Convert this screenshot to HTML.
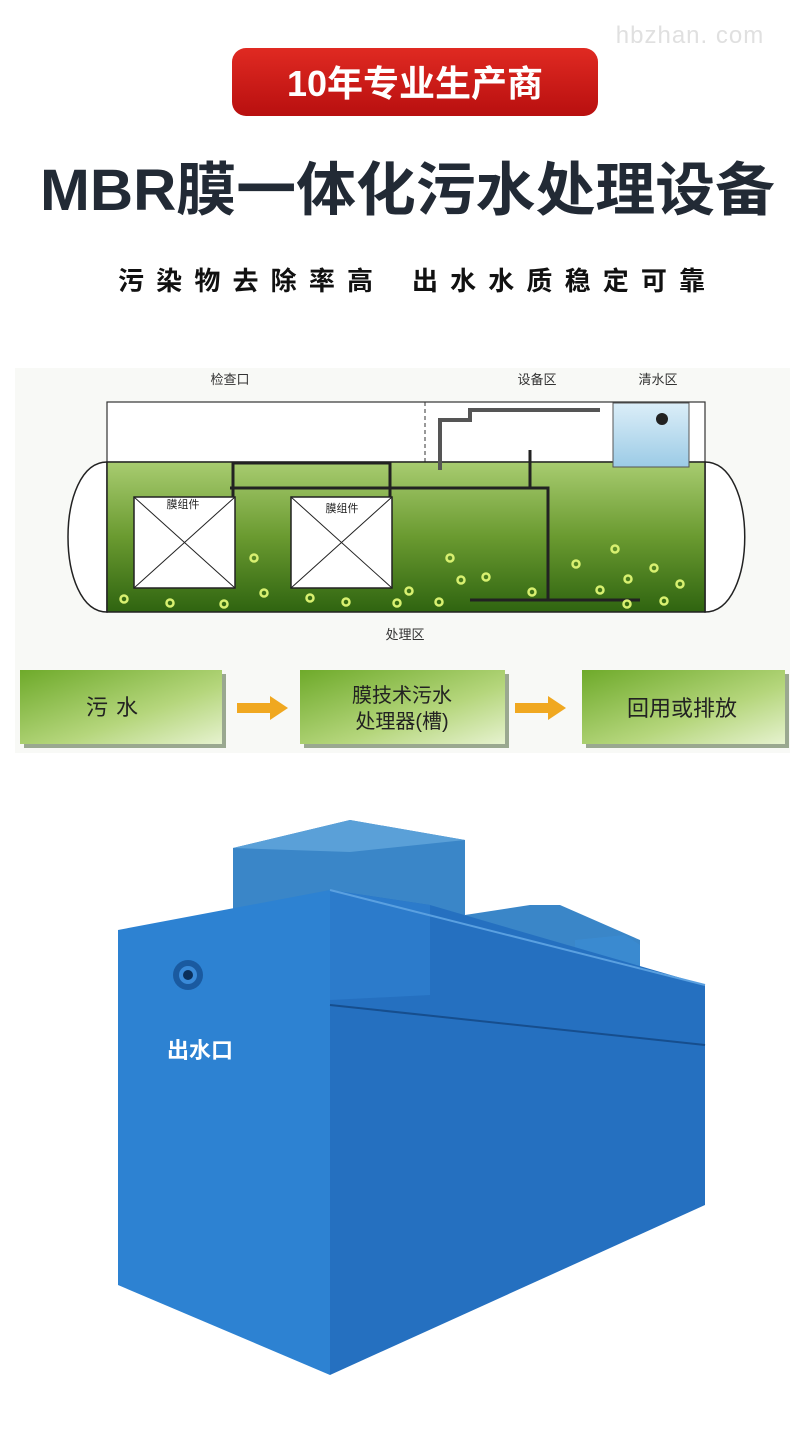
<!DOCTYPE html>
<html><head><meta charset="utf-8"><style>
body{margin:0;background:#fff;width:800px;height:1434px;overflow:hidden;font-family:"Liberation Sans","Noto Sans CJK SC",sans-serif}
svg{display:block}
</style></head><body>
<svg width="800" height="1434" viewBox="0 0 800 1434" xmlns="http://www.w3.org/2000/svg" font-family="Liberation Sans, Noto Sans CJK SC, sans-serif">
<defs>
<linearGradient id="red" x1="0" y1="0" x2="0" y2="1"><stop offset="0" stop-color="#e02a22"/><stop offset="1" stop-color="#b80f0f"/></linearGradient>
<linearGradient id="grn" x1="0" y1="0" x2="0" y2="1"><stop offset="0" stop-color="#a8cc70"/><stop offset="0.5" stop-color="#6a9a30"/><stop offset="1" stop-color="#2f6410"/></linearGradient>
<linearGradient id="box" x1="0" y1="0" x2="1" y2="1"><stop offset="0" stop-color="#6eaa2a"/><stop offset="0.6" stop-color="#b5d67c"/><stop offset="1" stop-color="#e6f2cf"/></linearGradient>
<linearGradient id="blu" x1="0" y1="0" x2="0" y2="1"><stop offset="0" stop-color="#dbeef8"/><stop offset="1" stop-color="#9ccbe6"/></linearGradient>
</defs>
<text x="690" y="43" font-size="24" fill="#e0e0e0" text-anchor="middle" letter-spacing="1">hbzhan. com</text>
<rect x="232" y="48" width="366" height="68" rx="14" fill="url(#red)"/>
<text x="415" y="96" font-size="36" font-weight="bold" fill="#fff" text-anchor="middle">10年专业生产商</text>
<text x="40" y="210" font-size="58" font-weight="bold" fill="#222a35" textLength="735" lengthAdjust="spacingAndGlyphs">MBR膜一体化污水处理设备</text>
<text x="118" y="290" font-size="26" font-weight="bold" fill="#111" textLength="255" lengthAdjust="spacing">污染物去除率高</text>
<text x="412" y="290" font-size="26" font-weight="bold" fill="#111" textLength="293" lengthAdjust="spacing">出水水质稳定可靠</text>
<rect x="15" y="368" width="775" height="385" fill="#f8f9f6"/>
<text x="230" y="384" font-size="13" fill="#333" text-anchor="middle">检查口</text>
<text x="537" y="384" font-size="13" fill="#333" text-anchor="middle">设备区</text>
<text x="658" y="384" font-size="13" fill="#333" text-anchor="middle">清水区</text>
<path d="M107 462 C55 462 55 612 107 612 Z" fill="#fff" stroke="#222" stroke-width="1.5"/>
<path d="M705 462 C758 462 758 612 705 612 Z" fill="#fff" stroke="#222" stroke-width="1.5"/>
<rect x="107" y="402" width="598" height="60" fill="#fff" stroke="#333" stroke-width="1.2"/>
<line x1="425" y1="402" x2="425" y2="462" stroke="#333" stroke-dasharray="4,3"/>
<rect x="107" y="462" width="598" height="150" fill="url(#grn)" stroke="#222" stroke-width="1.5"/>
<rect x="613" y="403" width="76" height="64" fill="url(#blu)" stroke="#555"/>
<circle cx="662" cy="419" r="6" fill="#222"/>
<g stroke="#222" stroke-width="3" fill="none">
<path d="M233 498 V463 H390 V498"/><path d="M230 488 H548 V600"/><path d="M530 488 V450"/>
<path d="M470 600 H640"/></g>
<path d="M440 470 V420 H470 V410 H600" stroke="#555" stroke-width="4" fill="none"/>
<rect x="134" y="497" width="101" height="91" fill="#fff" stroke="#222" stroke-width="1.5"/>
<path d="M134 497 L235 588 M235 497 L134 588" stroke="#222"/>
<rect x="291" y="497" width="101" height="91" fill="#fff" stroke="#222" stroke-width="1.5"/>
<path d="M291 497 L392 588 M392 497 L291 588" stroke="#222"/>
<text x="183" y="508" font-size="11" fill="#222" text-anchor="middle">膜组件</text>
<text x="342" y="512" font-size="11" fill="#222" text-anchor="middle">膜组件</text>
<g fill="none" stroke="#d8f070" stroke-width="2.5">
<circle cx="124" cy="599" r="3.5"/><circle cx="170" cy="603" r="3.5"/><circle cx="224" cy="604" r="3.5"/><circle cx="254" cy="558" r="3.5"/><circle cx="264" cy="593" r="3.5"/><circle cx="310" cy="598" r="3.5"/><circle cx="346" cy="602" r="3.5"/><circle cx="397" cy="603" r="3.5"/><circle cx="409" cy="591" r="3.5"/><circle cx="439" cy="602" r="3.5"/><circle cx="450" cy="558" r="3.5"/><circle cx="461" cy="580" r="3.5"/><circle cx="486" cy="577" r="3.5"/><circle cx="532" cy="592" r="3.5"/><circle cx="576" cy="564" r="3.5"/><circle cx="600" cy="590" r="3.5"/><circle cx="615" cy="549" r="3.5"/><circle cx="628" cy="579" r="3.5"/><circle cx="654" cy="568" r="3.5"/><circle cx="680" cy="584" r="3.5"/><circle cx="664" cy="601" r="3.5"/><circle cx="627" cy="604" r="3.5"/></g>
<text x="405" y="639" font-size="13" fill="#333" text-anchor="middle">处理区</text>
<g>
<rect x="24" y="674" width="202" height="74" fill="#9aa890"/>
<rect x="20" y="670" width="202" height="74" fill="url(#box)"/>
<rect x="304" y="674" width="205" height="74" fill="#9aa890"/>
<rect x="300" y="670" width="205" height="74" fill="url(#box)"/>
<rect x="586" y="674" width="203" height="74" fill="#9aa890"/>
<rect x="582" y="670" width="203" height="74" fill="url(#box)"/>
<text x="116" y="715" font-size="22" fill="#222" text-anchor="middle" letter-spacing="8">污水</text>
<text x="402" y="702" font-size="20" fill="#222" text-anchor="middle">膜技术污水</text>
<text x="402" y="728" font-size="20" fill="#222" text-anchor="middle">处理器(槽)</text>
<text x="682" y="716" font-size="22" fill="#222" text-anchor="middle">回用或排放</text>
<path d="M237 703 H270 V696 L288 708 L270 720 V713 H237Z" fill="#f0a820"/>
<path d="M515 703 H548 V696 L566 708 L548 720 V713 H515Z" fill="#f0a820"/>
</g>
<polygon points="233,848 350,820 465,840 465,915 233,915" fill="#3a86c8"/>
<polygon points="233,848 350,820 465,840 350,852" fill="#5aa0d8"/>
<polygon points="465,915 530,905 560,905 640,940 640,970 465,970" fill="#3a86c8"/>
<polygon points="575,940 625,935 640,945 640,975 575,975" fill="#3a8ad0"/>
<polygon points="118,930 330,890 330,1375 118,1285" fill="#2d82d2"/>
<polygon points="330,890 430,905 705,985 705,1205 330,1375" fill="#2570c0"/>
<polygon points="330,890 430,905 430,995 330,1000" fill="#2c7bcb"/>
<line x1="330" y1="1005" x2="705" y2="1045" stroke="#164e8e" stroke-width="2"/>
<line x1="330" y1="890" x2="705" y2="985" stroke="#5aa0e0" stroke-width="2"/>
<circle cx="188" cy="975" r="15" fill="#1a5aa0"/><circle cx="188" cy="975" r="9" fill="#3a8ad8"/><circle cx="188" cy="975" r="5" fill="#0b2f5a"/>
<text x="200" y="1058" font-size="22" font-weight="bold" fill="#fff" text-anchor="middle">出水口</text>
</svg>
</body></html>
